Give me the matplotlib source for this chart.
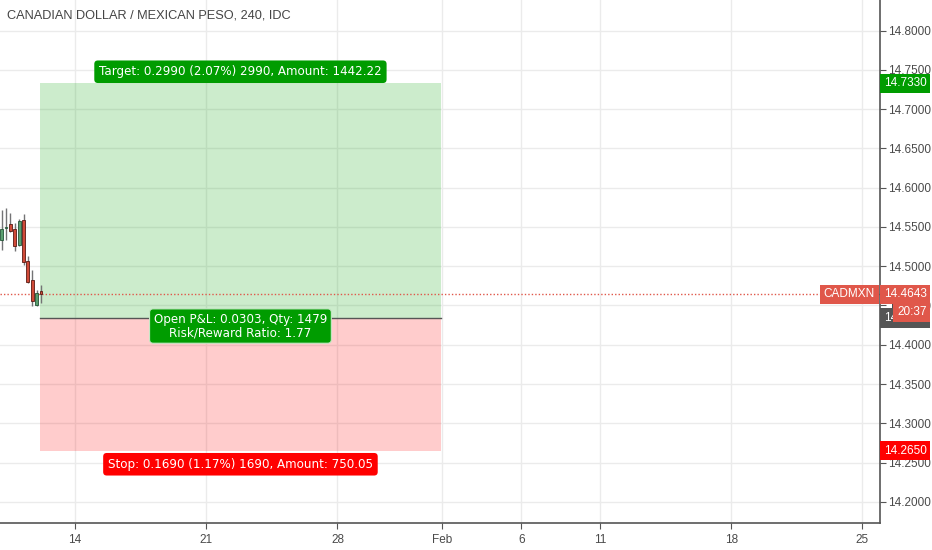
import matplotlib
matplotlib.use('Agg')
import matplotlib.pyplot as plt
import matplotlib.transforms as mtransforms
import numpy as np

title = 'CANADIAN DOLLAR / MEXICAN PESO, 240, IDC'

# 4h candles, x measured in trading days from Jan 14
bar_x0 = -2.795
bar_step = 1 / 6
opens = [14.5338, 14.5490, 14.5540, 14.5474, 14.5274, 14.5592, 14.5070, 14.4828, 14.4510, 14.4688]
highs = [14.5720, 14.5745, 14.5682, 14.5550, 14.5600, 14.5669, 14.5125, 14.4955, 14.4700, 14.4764]
lows = [14.5210, 14.5338, 14.5440, 14.5189, 14.5252, 14.5019, 14.4786, 14.4488, 14.4488, 14.4531]
closes = [14.5478, 14.5500, 14.5450, 14.5252, 14.5580, 14.5048, 14.4800, 14.4552, 14.4659, 14.4643]

# long position tool
entry = 14.4340
target = 14.7330
stop = 14.2650
pos_start = -1.333
pos_end = 13.94
last_price = 14.4643
countdown = '20:37'
symbol = 'CADMXN'

target_text = 'Target: 0.2990 (2.07%) 2990, Amount: 1442.22'
mid_text = 'Open P&L: 0.0303, Qty: 1479\nRisk/Reward Ratio: 1.77'
stop_text = 'Stop: 0.1690 (1.17%) 1690, Amount: 750.05'

xtick_pos = [0, 5, 10, 14, 17, 20, 25, 30]
xtick_lbl = ['14', '21', '28', 'Feb', '6', '11', '18', '25']
yticks = np.arange(14.20, 14.801, 0.05)

up_col, dn_col = '#5a9e6f', '#d04a38'
up_edge, dn_edge = '#225437', '#5b1a13'
wick_col = '#737375'

fig = plt.figure(figsize=(9.32, 5.5), dpi=100)
ax = fig.add_axes([0, 1 - 523 / 550, 880 / 932, 523 / 550])
ax.set_xlim(-2.857, 30.67)
ax.set_ylim(14.173, 14.839)

ax.set_xticks(xtick_pos)
ax.set_xticklabels(xtick_lbl)
ax.set_yticks(yticks)
ax.set_yticklabels(['%.4f' % v for v in yticks])
ax.yaxis.tick_right()
ax.tick_params(axis='both', colors='#555555', labelcolor='#4a4a4a', labelsize=8.5, length=4)
ax.tick_params(axis='x', pad=4)
ax.tick_params(axis='y', pad=2)
for t in ax.get_xticklabels() + ax.get_yticklabels():
    t.set_family(['Liberation Sans', 'DejaVu Sans'])
ax.grid(True, color='#ebebeb', linewidth=1)
ax.set_axisbelow(True)
for s in ['top', 'left']:
    ax.spines[s].set_visible(False)
for s in ['right', 'bottom']:
    ax.spines[s].set_color('#555555')
    ax.spines[s].set_linewidth(1.2)

# position zones
ax.fill_between([pos_start, pos_end], entry, target, color='#00a000', alpha=0.2, linewidth=0, zorder=1)
ax.fill_between([pos_start, pos_end], stop, entry, color='#ff0000', alpha=0.2, linewidth=0, zorder=1)
ax.plot([pos_start, pos_end], [entry, entry], color='#555555', linewidth=1, zorder=2)

# candles
xs = bar_x0 + bar_step * np.arange(len(opens))
for x, o, h, l, c in zip(xs, opens, highs, lows, closes):
    ax.vlines(x, l, h, color=wick_col, linewidth=1, zorder=3)
    up = c >= o
    ax.bar(x, abs(c - o), bottom=min(o, c), width=0.11, color=up_col if up else dn_col,
           edgecolor=up_edge if up else dn_edge, linewidth=0.6, zorder=4)

# last price line
ax.axhline(last_price, color='#e0574a', linestyle=(0, (1, 1.5)), linewidth=1, zorder=2)

mid = (pos_start + pos_end) / 2
lab_font = ['DejaVu Sans']
box = dict(boxstyle='round,pad=0.4,rounding_size=0.3', ec='none')
ax.annotate(target_text, xy=(mid, target), xytext=(0, 5), textcoords='offset pixels',
            ha='center', va='bottom', color='white', fontsize=8.6, family=lab_font, zorder=6,
            bbox=dict(box, fc='#009c00'))
ax.annotate(mid_text, xy=(mid, entry), xytext=(0, -8), textcoords='offset pixels',
            ha='center', va='center', color='white', fontsize=8.6, family=lab_font,
            linespacing=1.0, zorder=6,
            bbox=dict(boxstyle='round,pad=0.35,rounding_size=0.3', fc='#009c00', ec='#c8e8c8', lw=0.8))
ax.annotate(stop_text, xy=(mid, stop), xytext=(0, -7), textcoords='offset pixels',
            ha='center', va='top', color='white', fontsize=8.6, family=lab_font, zorder=6,
            bbox=dict(box, fc='#ff0000'))

# title
fig.text(7 / 932, 1 - 15 / 550, title, ha='left', va='center', color='#444444', fontsize=9.2,
         family=['Liberation Sans', 'DejaVu Sans'])

# axis price labels
tr = mtransforms.blended_transform_factory(ax.transAxes, ax.transData)
ax_font = ['Liberation Sans', 'DejaVu Sans']


def axis_label(y, text, fc, dx=4, dy=0, ha='left', z=7):
    ax.annotate(text, xy=(1, y), xycoords=tr, xytext=(dx, dy), textcoords='offset pixels',
                ha=ha, va='center', color='white', fontsize=8.5, family=ax_font,
                annotation_clip=False, zorder=z,
                bbox=dict(boxstyle='square,pad=0.3', fc=fc, ec='none'))


axis_label(target, '%.4f' % target, '#009c00')
axis_label(stop, '%.4f' % stop, '#ff0000')
axis_label(entry, '%.4f' % entry, '#555555', z=7)
axis_label(last_price, '%.4f' % last_price, '#e0574a', z=8)
axis_label(last_price, symbol, '#e0574a', dx=-5, ha='right', z=8)
axis_label(last_price, countdown, '#e0574a', dx=17, dy=-18, z=9)

fig.savefig('out.png', dpi=100)
